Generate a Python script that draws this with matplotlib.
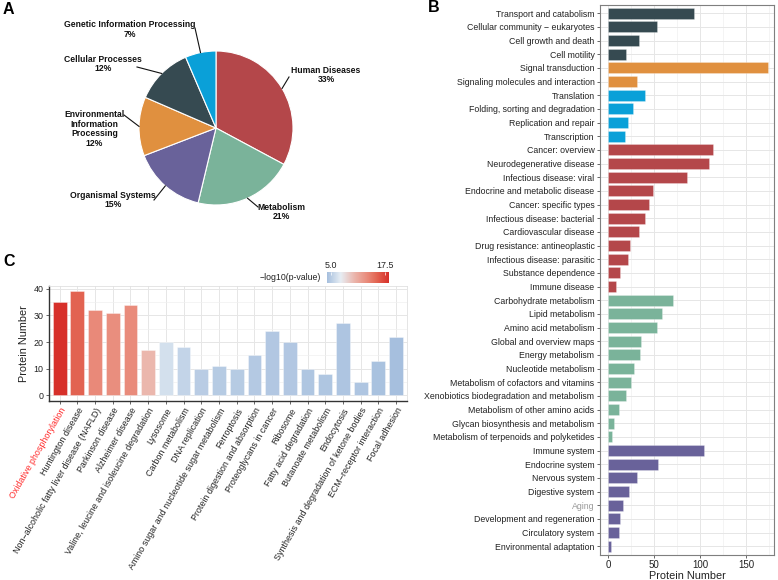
import numpy as np
import matplotlib
matplotlib.use("Agg")
import matplotlib.pyplot as plt
from matplotlib.colors import LinearSegmentedColormap, Normalize
from matplotlib.ticker import MultipleLocator

plt.rcParams['font.family'] = ['Liberation Sans', 'DejaVu Sans']

W, H = 778, 580

# ---- panel B data (top to bottom) ----
kegg_terms = [
    "Transport and catabolism", "Cellular community \u2212 eukaryotes", "Cell growth and death", "Cell motility",
    "Signal transduction", "Signaling molecules and interaction",
    "Translation", "Folding, sorting and degradation", "Replication and repair", "Transcription",
    "Cancer: overview", "Neurodegenerative disease", "Infectious disease: viral", "Endocrine and metabolic disease",
    "Cancer: specific types", "Infectious disease: bacterial", "Cardiovascular disease",
    "Drug resistance: antineoplastic", "Infectious disease: parasitic", "Substance dependence", "Immune disease",
    "Carbohydrate metabolism", "Lipid metabolism", "Amino acid metabolism", "Global and overview maps",
    "Energy metabolism", "Nucleotide metabolism", "Metabolism of cofactors and vitamins",
    "Xenobiotics biodegradation and metabolism", "Metabolism of other amino acids",
    "Glycan biosynthesis and metabolism", "Metabolism of terpenoids and polyketides",
    "Immune system", "Endocrine system", "Nervous system", "Digestive system", "Aging",
    "Development and regeneration", "Circulatory system", "Environmental adaptation",
]
kegg_counts = [93, 53, 34, 20,
               174, 31,
               40, 27, 22, 18,
               114, 110, 86, 49, 44, 40, 34, 24, 22, 13, 9,
               70, 58, 53, 36, 35, 28, 25, 20, 12, 6, 4,
               104, 54, 31, 23, 16, 13, 12, 3]
kegg_class = (["Cellular Processes"] * 4 + ["Environmental Information Processing"] * 2 +
              ["Genetic Information Processing"] * 4 + ["Human Diseases"] * 11 +
              ["Metabolism"] * 11 + ["Organismal Systems"] * 8)

class_colors = {
    "Human Diseases": "#B4474A",
    "Metabolism": "#7AB39A",
    "Organismal Systems": "#69629A",
    "Environmental Information Processing": "#E0903F",
    "Cellular Processes": "#364A51",
    "Genetic Information Processing": "#0AA0D8",
}

# ---- panel A (pie) data: class order clockwise from 12 o'clock ----
pie_classes = ["Human Diseases", "Metabolism", "Organismal Systems",
               "Environmental Information Processing", "Cellular Processes",
               "Genetic Information Processing"]
pie_labels = ["Human Diseases\n33%", "Metabolism\n21%", "Organismal Systems\n15%",
              "Environmental\nInformation\nProcessing\n12%", "Cellular Processes\n12%",
              "Genetic Information Processing\n7%"]

# ---- panel C data ----
enrich_terms = [
    "Oxidative phosphorylation", "Huntington disease", "Non\u2212alcoholic fatty liver disease (NAFLD)",
    "Parkinson disease", "Alzheimer disease", "Valine, leucine and isoleucine degradation",
    "Lysosome", "Carbon metabolism", "DNA replication", "Amino sugar and nucleotide sugar metabolism",
    "Ferroptosis", "Protein digestion and absorption", "Proteoglycans in cancer", "Ribosome",
    "Fatty acid degradation", "Butanoate metabolism", "Endocytosis",
    "Synthesis and degradation of ketone bodies", "ECM\u2212receptor interaction", "Focal adhesion",
]
enrich_counts = [35, 39, 32, 31, 34, 17, 20, 18, 10, 11, 10, 15, 24, 20, 10, 8, 27, 5, 13, 22]
enrich_logp = [18.3, 15.6, 13.4, 13.1, 13.3, 10.3, 6.2, 5.4, 4.9, 4.8, 4.8, 4.7, 4.6, 4.6,
               4.5, 4.5, 4.4, 4.4, 4.2, 4.0]


def fx(px):
    return px / W


def fy(py):
    return 1 - py / H


fig = plt.figure(figsize=(W / 100, H / 100), dpi=100)

dark = "#222222"

# ================= Panel A =================
cx, cy, r = 216, 128, 77
half = 112
axA = fig.add_axes([fx(cx - half), fy(cy + half), 2 * half / W, 2 * half / H])
pie_vals = [sum(c for c, k in zip(kegg_counts, kegg_class) if k == cl) for cl in pie_classes]
wedges, _ = axA.pie(pie_vals, colors=[class_colors[c] for c in pie_classes], startangle=90,
                    counterclock=False, radius=1,
                    wedgeprops=dict(edgecolor="white", linewidth=0.8))
axA.set_xlim(-half / r, half / r)
axA.set_ylim(-half / r, half / r)
axA.set_aspect("equal")
axA.axis("off")

# leader line ends and label centres in pixels
line_ends = [(289, 77), (258, 207), (154, 200), (124, 115), (137, 67), (195, 28)]
label_pos = [(326, 75), (281, 212), (113, 200), (94.5, 129), (103, 64), (129.5, 29.5)]
for w, (lx, ly), (tx, ty), lab in zip(wedges, line_ends, label_pos, pie_labels):
    ang = np.deg2rad((w.theta1 + w.theta2) / 2)
    axA.plot([np.cos(ang), (lx - cx) / r], [np.sin(ang), (cy - ly) / r],
             color="#111111", lw=0.8, clip_on=False)
    fig.text(fx(tx), fy(ty), lab, ha="center", va="center", fontsize=6.2,
             fontweight="bold", color="#111111", linespacing=1.1)

# ================= Panel B =================
axB = fig.add_axes([fx(600), fy(554.5), (774 - 600) / W, (554.5 - 5) / H])
ypos = np.arange(len(kegg_terms))
axB.barh(ypos, kegg_counts, height=0.8,
         color=[class_colors[k] for k in kegg_class],
         edgecolor=(1, 1, 1, 0.35), linewidth=0.5, zorder=3)
axB.set_ylim(len(kegg_terms) - 0.4, -0.6)
axB.set_xlim(-8.7, 180)
axB.set_yticks(ypos)
axB.set_yticklabels(kegg_terms)
axB.set_xticks([0, 50, 100, 150])
axB.xaxis.set_minor_locator(MultipleLocator(25))
axB.grid(which="major", color="#E6E6E6", lw=0.7, zorder=0)
axB.grid(which="minor", axis="x", color="#F0F0F0", lw=0.5, zorder=0)
axB.set_axisbelow(True)
axB.tick_params(axis="y", labelsize=6.3, colors="#4D4D4D", length=2.5, width=0.6, pad=1.5)
axB.tick_params(axis="x", labelsize=7.0, colors="#4D4D4D", length=2.5, width=0.6, pad=1.5)
axB.tick_params(which="minor", length=0)
for lab in axB.get_yticklabels():
    lab.set_color("#9A9A9A" if lab.get_text() == "Aging" else dark)
for lab in axB.get_xticklabels():
    lab.set_color(dark)
for s in axB.spines.values():
    s.set_color("#7F7F7F")
    s.set_linewidth(0.8)
axB.set_xlabel("Protein Number", fontsize=7.8, color=dark, labelpad=1)

# ================= Panel C =================
cmap = LinearSegmentedColormap.from_list(
    "bwr_custom", [(0, "#A6BFDE"), (0.22, "#E7EEF4"), (0.45, "#EBB4AA"),
                   (0.65, "#E98B7B"), (0.8, "#E36653"), (1, "#D7302A")])
norm = Normalize(vmin=min(enrich_logp), vmax=max(enrich_logp))

axC = fig.add_axes([fx(49), fy(400.7), (406.7 - 49) / W, (400.7 - 286) / H])
xpos = np.arange(len(enrich_terms))
axC.bar(xpos, enrich_counts, width=0.78, color=cmap(norm(enrich_logp)),
        edgecolor=(1, 1, 1, 0.5), linewidth=0.5, zorder=3)
axC.set_xlim(-0.6, len(enrich_terms) - 0.4)
axC.set_ylim(-1.95, 40.95)
axC.set_yticks([0, 10, 20, 30, 40])
axC.yaxis.set_minor_locator(MultipleLocator(5))
axC.set_xticks(xpos)
axC.set_xticklabels(enrich_terms, rotation=60, ha="right", rotation_mode="anchor")
axC.grid(which="major", color="#E6E6E6", lw=0.7, zorder=0)
axC.grid(which="minor", axis="y", color="#F0F0F0", lw=0.5, zorder=0)
axC.set_axisbelow(True)
axC.tick_params(axis="both", labelsize=6.4, colors="#4D4D4D", length=2.5, width=0.6, pad=1.5)
axC.tick_params(which="minor", length=0)
for lab in axC.get_xticklabels() + axC.get_yticklabels():
    lab.set_color(dark)
axC.get_xticklabels()[0].set_color("#FF2A2A")
for name, s in axC.spines.items():
    if name in ("left", "bottom"):
        s.set_color("#333333")
        s.set_linewidth(1.0)
    else:
        s.set_color("#E0E0E0")
        s.set_linewidth(0.6)
axC.set_ylabel("Protein Number", fontsize=7.8, color=dark, labelpad=3)

# colour bar
axCb = fig.add_axes([fx(326.7), fy(283.3), (388.3 - 326.7) / W, 11.6 / H])
grad = np.linspace(norm.vmin, norm.vmax, 256).reshape(1, -1)
axCb.imshow(grad, aspect="auto", cmap=cmap, norm=norm,
            extent=[norm.vmin, norm.vmax, 0, 1])
axCb.set_yticks([])
axCb.set_xticks([5.0, 17.5])
axCb.set_xticklabels(["5.0", "17.5"])
axCb.xaxis.tick_top()
axCb.tick_params(axis="x", labelsize=6.4, colors="white", labelcolor=dark,
                 length=2, width=0.5, pad=1, direction="in")
for s in axCb.spines.values():
    s.set_visible(False)
fig.text(fx(321), fy(277.5), "\u2212log10(p-value)", ha="right", va="center",
         fontsize=6.3, color=dark)

# panel letters
for letter, (px, py) in zip("ABC", [(3, 9), (428, 8), (3, 262)]):
    fig.text(fx(px), fy(py), letter, ha="left", va="center", fontsize=11.5,
             fontweight="bold", color="black")

fig.savefig("out.png", dpi=100)
